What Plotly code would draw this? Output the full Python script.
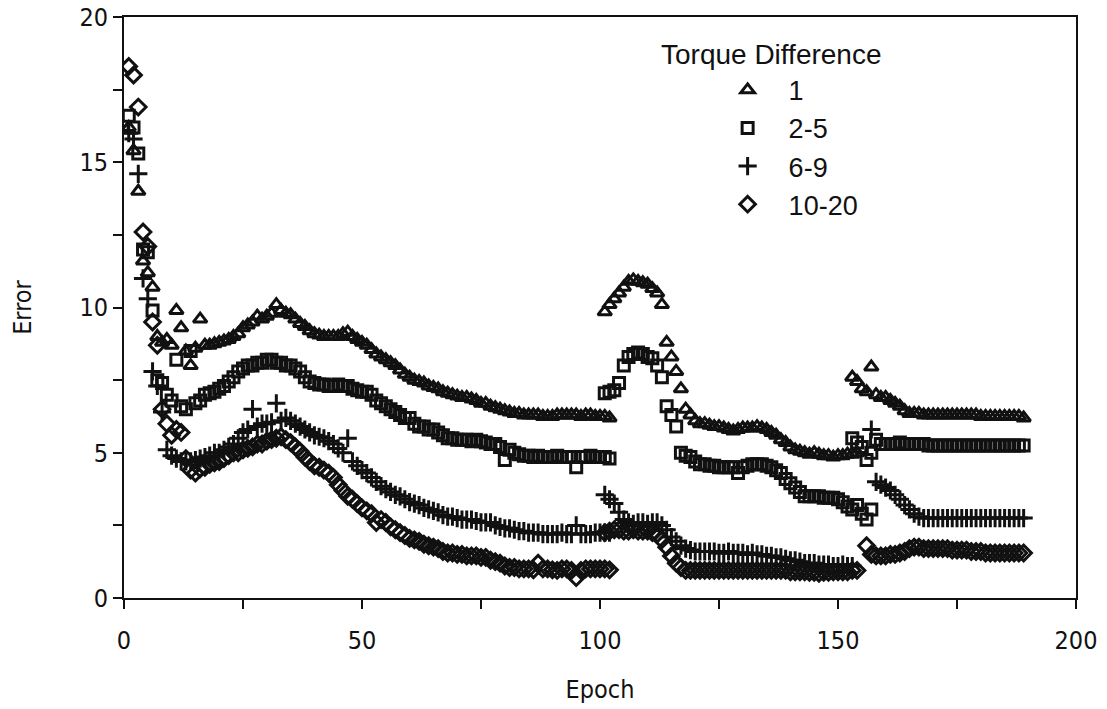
import plotly.graph_objects as go

# ---------------- data ----------------
epochs_run1 = list(range(1, 103))     # 1..102
epochs_run2 = list(range(101, 158))   # 101..157
epochs_run3 = list(range(153, 190))   # 153..189

# Torque difference 1 (triangles)
t_run1 = [16.2, 15.4, 14.0, 11.6, 11.2, 10.7, 9.0, 8.8, 8.9, 8.7,
          9.9, 9.3, 8.5, 8.0, 8.6, 9.6, 8.7, 8.7, 8.75, 8.8,
          8.85, 8.9, 9.0, 9.1, 9.3, 9.4, 9.5, 9.7, 9.6, 9.7,
          9.8, 10.1, 9.9, 9.8, 9.75, 9.6, 9.45, 9.35, 9.2, 9.1,
          9.05, 9.0, 9.0, 9.0, 9.0, 9.1, 9.15, 9.0, 8.9, 8.8,
          8.7, 8.55, 8.4, 8.3, 8.2, 8.1, 8.0, 7.85, 7.7, 7.6,
          7.5, 7.45, 7.4, 7.3, 7.25, 7.2, 7.1, 7.05, 7.0, 6.95,
          6.9, 6.9, 6.85, 6.8, 6.7, 6.7, 6.6, 6.55, 6.5, 6.45,
          6.4, 6.35, 6.35, 6.3, 6.3, 6.3, 6.3, 6.25, 6.25, 6.25,
          6.3, 6.3, 6.3, 6.3, 6.3, 6.25, 6.3, 6.3, 6.25, 6.25,
          6.25, 6.2]
t_run2 = [9.85, 10.1, 10.3, 10.5, 10.7, 10.9, 10.95, 10.9, 10.85, 10.8,
          10.65, 10.5, 10.1, 8.8, 8.3, 7.8, 7.2, 6.5, 6.3, 6.1,
          6.0, 6.0, 5.95, 5.9, 5.9, 5.85, 5.8, 5.75, 5.8, 5.85,
          5.85, 5.85, 5.9, 5.85, 5.8, 5.7, 5.6, 5.45, 5.35, 5.2,
          5.1, 5.05, 5.0, 4.95, 5.0, 4.95, 4.9, 4.9, 4.85, 4.9,
          4.9, 4.95, 4.95, 5.0, None, None, None]
t_run3 = [7.6, 7.45, 7.2, 7.1, 7.95, 7.0, 6.9, 6.9, 6.8, 6.7,
          6.6, 6.45, 6.35, 6.35, 6.35, 6.3, 6.3, 6.3, 6.3, 6.3,
          6.3, 6.3, 6.3, 6.3, 6.3, 6.3, 6.3, 6.25, 6.25, 6.25,
          6.25, 6.25, 6.25, 6.25, 6.25, 6.25, 6.2]

# Torque difference 2-5 (squares)
s_run1 = [16.6, 16.2, 15.3, 12.0, 11.9, 9.9, 7.5, 7.4, 7.0, 6.8,
          8.2, 6.6, 6.5, 8.5, 6.7, 6.8, 7.0, 7.05, 7.1, 7.2,
          7.3, 7.45, 7.6, 7.8, 7.9, 8.0, 8.0, 8.1, 8.1, 8.2,
          8.2, 8.1, 8.1, 8.0, 8.0, 7.9, 7.8, 7.6, 7.45, 7.4,
          7.35, 7.35, 7.3, 7.3, 7.35, 7.3, 7.3, 7.2, 7.15, 7.1,
          7.1, 7.0, 6.8, 6.7, 6.6, 6.5, 6.4, 6.3, 6.2, 6.2,
          6.0, 5.9, 5.9, 5.8, 5.8, 5.7, 5.6, 5.5, 5.5, 5.45,
          5.45, 5.45, 5.4, 5.45, 5.4, 5.35, 5.3, 5.3, 5.2, 4.75,
          5.1, 5.0, 4.95, 4.9, 4.9, 4.85, 4.9, 4.85, 4.85, 4.85,
          4.9, 4.85, 4.85, 4.85, 4.5, 4.85, 4.85, 4.9, 4.85, 4.85,
          4.85, 4.8]
s_run2 = [7.05, 7.1, 7.15, 7.4, 8.0, 8.3, 8.4, 8.45, 8.4, 8.3,
          8.25, 8.0, 7.6, 6.6, 6.3, 5.9, 5.0, 4.9, 4.85, 4.7,
          4.6, 4.6, 4.55, 4.55, 4.5, 4.5, 4.5, 4.5, 4.3, 4.5,
          4.55, 4.6, 4.6, 4.6, 4.55, 4.5, 4.4, 4.3, 4.1, 3.95,
          3.8, 3.65, 3.5, 3.5, 3.5, 3.5, 3.45, 3.45, 3.45, 3.4,
          3.3, 3.15, 3.05, 3.2, 2.9, 2.7, 3.05]
s_run3 = [5.5, 5.35, 5.2, 4.75, 5.0, 5.45, 5.3, 5.3, 5.3, 5.3,
          5.35, 5.3, 5.3, 5.3, 5.3, 5.3, 5.25, 5.25, 5.25, 5.25,
          5.25, 5.25, 5.25, 5.25, 5.25, 5.25, 5.25, 5.25, 5.25, 5.25,
          5.25, 5.25, 5.25, 5.25, 5.25, 5.25, 5.25]

# Torque difference 6-9 (plus)
p_run1 = [16.0, 15.8, 14.6, 11.0, 10.3, 7.8, 7.3, 6.4, 5.1, 4.9,
          4.8, 4.7, 4.7, 4.7, 4.75, 4.8, 4.85, 4.9, 5.0, 5.0,
          5.1, 5.2, 5.3, 5.5, 5.7, 5.8, 6.5, 5.9, 6.0, 6.0,
          6.05, 6.7, 6.1, 6.2, 6.1, 6.0, 5.9, 5.8, 5.7, 5.6,
          5.55, 5.5, 5.4, 5.3, 5.15, 5.0, 5.5, 4.7, 4.55, 4.4,
          4.3, 4.15, 4.0, 3.85, 3.75, 3.65, 3.55, 3.5, 3.4, 3.3,
          3.25, 3.2, 3.1, 3.05, 3.0, 2.95, 2.85, 2.8, 2.8, 2.75,
          2.7, 2.7, 2.7, 2.65, 2.6, 2.6, 2.6, 2.5, 2.45, 2.4,
          2.4, 2.35, 2.3, 2.3, 2.25, 2.25, 2.25, 2.2, 2.2, 2.2,
          2.2, 2.25, 2.2, 2.2, 2.5, 2.2, 2.2, 2.2, 2.25, 2.25,
          2.25, 2.25]
p_run2 = [3.55, 3.4, 3.25, 2.95, 2.7, 2.6, 2.55, 2.6, 2.6, 2.55,
          2.6, 2.6, 2.5, 2.35, 2.1, 1.95, 1.8, 1.7, 1.65, 1.6,
          1.6, 1.6, 1.6, 1.6, 1.55, 1.55, 1.6, 1.55, 1.55, 1.55,
          1.5, 1.55, 1.5, 1.5, 1.45, 1.45, 1.4, 1.4, 1.35, 1.3,
          1.3, 1.25, 1.2, 1.2, 1.2, 1.15, 1.15, 1.15, 1.1, 1.1,
          1.15, 1.1, 1.1, None, None, None, None]
p_run3 = [None, None, None, None, 5.8, 4.0, 3.9, 3.8, 3.7, 3.55,
          3.4, 3.2, 3.05, 2.9, 2.8, 2.75, 2.75, 2.75, 2.75, 2.75,
          2.75, 2.75, 2.75, 2.75, 2.75, 2.75, 2.75, 2.75, 2.75, 2.75,
          2.75, 2.75, 2.75, 2.75, 2.75, 2.75, 2.75]

# Torque difference 10-20 (diamonds)
d_run1 = [18.3, 18.0, 16.9, 12.6, 12.1, 9.5, 8.7, 6.5, 6.0, 5.6,
          5.8, 5.7, 4.8, 4.4, 4.3, 4.45, 4.5, 4.6, 4.65, 4.7,
          4.8, 4.9, 5.0, 5.0, 5.1, 5.15, 5.2, 5.3, 5.3, 5.4,
          5.45, 5.5, 5.55, 5.45, 5.35, 5.2, 5.05, 4.85, 4.7, 4.55,
          4.5, 4.4, 4.3, 4.15, 3.9, 3.7, 3.5, 3.4, 3.25, 3.1,
          3.0, 2.9, 2.6, 2.7, 2.6, 2.45, 2.35, 2.25, 2.15, 2.05,
          2.0, 1.95, 1.85, 1.8, 1.75, 1.7, 1.6, 1.55, 1.55, 1.5,
          1.5, 1.45, 1.45, 1.45, 1.4, 1.4, 1.3, 1.25, 1.2, 1.1,
          1.05, 1.05, 1.0, 1.0, 1.0, 0.97, 1.2, 1.0, 1.0, 0.97,
          0.95, 1.0, 1.0, 0.95, 0.7, 0.95, 1.0, 1.0, 1.0, 1.0,
          1.0, 0.97]
d_run2 = [2.25, 2.3, 2.35, 2.35, 2.3, 2.3, 2.35, 2.3, 2.3, 2.3,
          2.25, 2.2, 2.0, 1.75, 1.45, 1.2, 1.05, 0.95, 0.95, 0.95,
          0.95, 0.95, 0.95, 0.95, 0.95, 0.95, 0.95, 0.95, 0.95, 0.95,
          0.95, 0.95, 0.95, 0.95, 0.95, 0.95, 0.95, 0.95, 0.95, 0.9,
          0.9, 0.9, 0.9, 0.88, 0.88, 0.85, 0.88, 0.88, 0.9, 0.9,
          0.9, 0.9, 0.95, 0.95, None, None, None]
d_run3 = [None, None, None, 1.8, 1.5, 1.45, 1.45, 1.45, 1.5, 1.5,
          1.55, 1.6, 1.7, 1.75, 1.75, 1.7, 1.7, 1.7, 1.7, 1.7,
          1.7, 1.65, 1.65, 1.65, 1.65, 1.6, 1.6, 1.6, 1.55, 1.55,
          1.55, 1.55, 1.55, 1.55, 1.55, 1.55, 1.55]

series_names = ["1", "2-5", "6-9", "10-20"]
x_ticks = [0, 50, 100, 150, 200]
y_ticks = [0, 5, 10, 15, 20]

# ---------------- figure ----------------
all_epochs = epochs_run1 + epochs_run2 + epochs_run3
series_values = [
    t_run1 + t_run2 + t_run3,
    s_run1 + s_run2 + s_run3,
    p_run1 + p_run2 + p_run3,
    d_run1 + d_run2 + d_run3,
]
symbols = ["triangle-up-open", "square-open", "cross-thin-open", "diamond-open"]
sizes = [12, 11, 13, 12]

INK = "#111111"
fig = go.Figure()
for name, vals, sym, sz in zip(series_names, series_values, symbols, sizes):
    fig.add_trace(go.Scatter(
        x=all_epochs, y=vals, name=name, mode="markers",
        marker=dict(symbol=sym, size=sz, color=INK,
                    line=dict(color=INK, width=3)),
    ))

axis_font = dict(family="Liberation Sans Narrow, DejaVu Sans Condensed, Arial Narrow, Liberation Sans",
                 size=25, color=INK)

fig.update_layout(
    width=1107, height=709,
    margin=dict(l=124, r=31, t=17, b=111, autoexpand=False),
    paper_bgcolor="white", plot_bgcolor="white",
    showlegend=True,
    legend=dict(x=0.612, y=0.916, xanchor="left", yanchor="top",
                bgcolor="rgba(0,0,0,0)", itemwidth=72,
                font=dict(family="Liberation Sans, Arial", size=27, color=INK),
                tracegroupgap=0),
    annotations=[dict(text="Torque Difference", xref="paper", yref="paper",
                      x=0.562, y=0.935, xanchor="left", yanchor="middle",
                      showarrow=False,
                      font=dict(family="Liberation Sans, Arial", size=28, color=INK))],
)
fig.update_xaxes(
    range=[0, 200], tickvals=x_ticks, ticktext=[str(v) for v in x_ticks],
    showgrid=False, zeroline=False, automargin=False,
    showline=True, linecolor=INK, linewidth=2, mirror=True,
    ticks="outside", ticklen=9, tickwidth=2, tickcolor=INK,
    minor=dict(dtick=25, tick0=0, ticks="outside", ticklen=9, tickwidth=2, tickcolor=INK, showgrid=False),
    tickfont=axis_font, ticklabelstandoff=10,
    title=dict(text="Epoch", font=axis_font, standoff=26),
)
fig.update_yaxes(
    range=[0, 20], tickvals=y_ticks, ticktext=[str(v) for v in y_ticks],
    showgrid=False, zeroline=False, automargin=False,
    showline=True, linecolor=INK, linewidth=2, mirror=True,
    ticks="outside", ticklen=9, tickwidth=2, tickcolor=INK,
    minor=dict(dtick=2.5, tick0=0, ticks="outside", ticklen=9, tickwidth=2, tickcolor=INK, showgrid=False),
    tickfont=axis_font,
    title=dict(text="Error", font=axis_font, standoff=41),
)

# remove the page's default body margin so the figure sits at the window's corner
fig.write_html("out.html",
               config={"displayModeBar": False},
               post_script="document.body.style.margin='0';document.body.style.overflow='hidden';")
